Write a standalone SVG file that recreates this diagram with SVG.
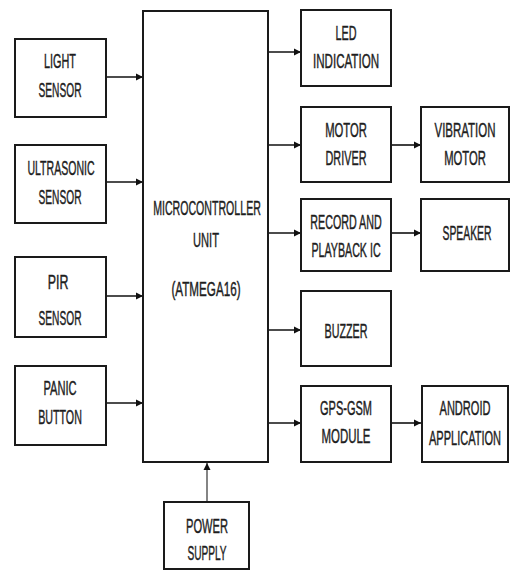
<svg xmlns="http://www.w3.org/2000/svg" width="510" height="572" viewBox="0 0 510 572">
<style>
.box{fill:#fff;stroke:#1a1a1a;stroke-width:2}
.t{font-family:"Liberation Sans",Arial,sans-serif;font-size:20px;fill:#1e1e1e;stroke:#1e1e1e;stroke-width:0.45;text-anchor:middle}
.c{stroke:#111;stroke-width:1.6;fill:none}
.p{stroke:#666;stroke-width:1.6;fill:none}
</style>
<defs>
<marker id="ah" markerUnits="userSpaceOnUse" markerWidth="8" markerHeight="8" refX="7" refY="4" orient="auto">
<path d="M0,0.5 L7,4 L0,7.5 Z" fill="#111"/>
</marker>
</defs>
<rect width="510" height="572" fill="#fff"/>
<g id="connectors">
<line class="c" x1="106" y1="77" x2="143" y2="77" marker-end="url(#ah)"/>
<line class="c" x1="106" y1="182" x2="143" y2="182" marker-end="url(#ah)"/>
<line class="c" x1="106" y1="296" x2="143" y2="296" marker-end="url(#ah)"/>
<line class="c" x1="106" y1="403" x2="143" y2="403" marker-end="url(#ah)"/>
<line class="c" x1="268" y1="52" x2="301" y2="52" marker-end="url(#ah)"/>
<line class="c" x1="268" y1="145" x2="301" y2="145" marker-end="url(#ah)"/>
<line class="c" x1="268" y1="233" x2="301" y2="233" marker-end="url(#ah)"/>
<line class="c" x1="268" y1="330" x2="301" y2="330" marker-end="url(#ah)"/>
<line class="c" x1="268" y1="423" x2="301" y2="423" marker-end="url(#ah)"/>
<line class="c" x1="391" y1="145" x2="421" y2="145" marker-end="url(#ah)"/>
<line class="c" x1="391" y1="233" x2="421" y2="233" marker-end="url(#ah)"/>
<line class="c" x1="391" y1="423" x2="421" y2="423" marker-end="url(#ah)"/>
<line class="p" x1="207" y1="502" x2="207" y2="463" marker-end="url(#ah)"/>
</g>
<g id="light-sensor">
<rect class="box" x="15" y="39" width="91" height="78"/>
<text class="t" transform="translate(60,68) scale(0.543,1)">LIGHT</text>
<text class="t" transform="translate(60,97) scale(0.509,1)">SENSOR</text>
</g>
<g id="ultrasonic-sensor">
<rect class="box" x="15" y="145" width="91" height="78"/>
<text class="t" transform="translate(61,175) scale(0.528,1)">ULTRASONIC</text>
<text class="t" transform="translate(60,204) scale(0.509,1)">SENSOR</text>
</g>
<g id="pir-sensor">
<rect class="box" x="15" y="257" width="91" height="80"/>
<text class="t" transform="translate(58,289) scale(0.62,1)">PIR</text>
<text class="t" transform="translate(60,325) scale(0.509,1)">SENSOR</text>
</g>
<g id="panic-button">
<rect class="box" x="15" y="366" width="91" height="79"/>
<text class="t" transform="translate(60,395) scale(0.556,1)">PANIC</text>
<text class="t" transform="translate(60,424) scale(0.535,1)">BUTTON</text>
</g>
<g id="mcu">
<rect class="box" x="143" y="11" width="125" height="451"/>
<text class="t" transform="translate(207,215) scale(0.53,1)">MICROCONTROLLER</text>
<text class="t" transform="translate(206,247) scale(0.557,1)">UNIT</text>
<text class="t" transform="translate(206,296) scale(0.583,1)">(ATMEGA16)</text>
</g>
<g id="led-indication">
<rect class="box" x="301" y="10" width="90" height="76"/>
<text class="t" transform="translate(346,40) scale(0.54,1)">LED</text>
<text class="t" transform="translate(346,68) scale(0.58,1)">INDICATION</text>
</g>
<g id="motor-driver">
<rect class="box" x="301" y="107" width="90" height="75"/>
<text class="t" transform="translate(346,137) scale(0.564,1)">MOTOR</text>
<text class="t" transform="translate(346,165) scale(0.542,1)">DRIVER</text>
</g>
<g id="vibration-motor">
<rect class="box" x="421" y="107" width="88" height="75"/>
<text class="t" transform="translate(465,137) scale(0.575,1)">VIBRATION</text>
<text class="t" transform="translate(465,165) scale(0.564,1)">MOTOR</text>
</g>
<g id="record-playback">
<rect class="box" x="301" y="199" width="90" height="72"/>
<text class="t" transform="translate(346,229) scale(0.536,1)">RECORD AND</text>
<text class="t" transform="translate(346,257) scale(0.534,1)">PLAYBACK IC</text>
</g>
<g id="speaker">
<rect class="box" x="421" y="199" width="88" height="72"/>
<text class="t" transform="translate(467,240) scale(0.519,1)">SPEAKER</text>
</g>
<g id="buzzer">
<rect class="box" x="301" y="291" width="90" height="75"/>
<text class="t" transform="translate(346,338) scale(0.5375,1)">BUZZER</text>
</g>
<g id="gps-gsm">
<rect class="box" x="301" y="386" width="90" height="76"/>
<text class="t" transform="translate(346,415) scale(0.55,1)">GPS-GSM</text>
<text class="t" transform="translate(346,443) scale(0.573,1)">MODULE</text>
</g>
<g id="android-app">
<rect class="box" x="422" y="386" width="86" height="76"/>
<text class="t" transform="translate(465,415) scale(0.553,1)">ANDROID</text>
<text class="t" transform="translate(465,445) scale(0.552,1)">APPLICATION</text>
</g>
<g id="power-supply">
<rect class="box" x="164" y="502" width="85" height="67"/>
<text class="t" transform="translate(207,533) scale(0.556,1)">POWER</text>
<text class="t" transform="translate(207,560) scale(0.507,1)">SUPPLY</text>
</g>
</svg>
